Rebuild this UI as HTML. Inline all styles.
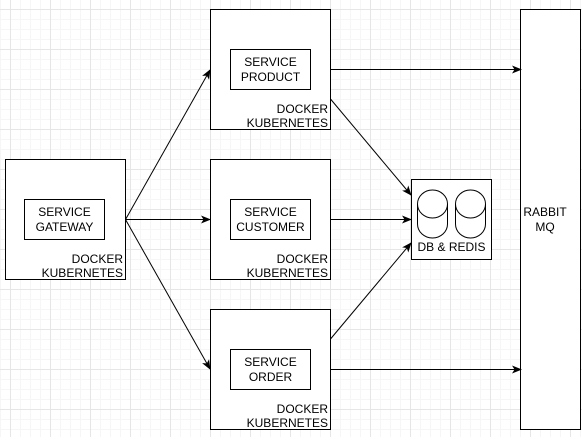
<!DOCTYPE html>
<html><head><style>
body{margin:0;width:582px;height:437px;overflow:hidden;background:#fff}
</style></head><body>
<svg width="582" height="437" xmlns="http://www.w3.org/2000/svg" font-family="Liberation Sans, Arial, sans-serif" font-size="12">
<defs>
<pattern id="mi" width="10" height="10" patternUnits="userSpaceOnUse" x="0" y="-1"><path d="M0 0.5H10M0.5 0V10" stroke="#f6f6f6" fill="none"/></pattern>
<pattern id="ma" width="40" height="40" patternUnits="userSpaceOnUse" x="10" y="9"><path d="M0 0.5H40M0.5 0V40" stroke="#e6e6e6" fill="none"/></pattern>
<marker id="a" markerWidth="10" markerHeight="8" refX="9" refY="4" orient="auto" markerUnits="userSpaceOnUse"><path d="M0 0L10 4L0 8L2.5 4Z" fill="#000"/></marker>
</defs>
<rect width="582" height="437" fill="url(#mi)"/>
<rect width="582" height="437" fill="url(#ma)"/>
<g fill="#fff" stroke="#000" stroke-width="1">
<rect x="5.5" y="159.5" width="120" height="120"/>
<rect x="24.5" y="199.5" width="80" height="40"/>
<rect x="210.5" y="9.5" width="120" height="120"/>
<rect x="230.5" y="49.5" width="80" height="40"/>
<rect x="210.5" y="159.5" width="120" height="120"/>
<rect x="230.5" y="199.5" width="80" height="40"/>
<rect x="210.5" y="309.5" width="120" height="120"/>
<rect x="230.5" y="349.5" width="80" height="40"/>
<rect x="411.5" y="179.5" width="80" height="80"/>
<rect x="520.5" y="9.5" width="60" height="420"/>
</g>
<g fill="none" stroke="#000">
<path d="M417.5 204a15 14 0 0 1 30 0v20a15 14 0 0 1 -30 0z M417.5 204a15 14 0 0 0 30 0"/>
<path d="M455.5 204a15 14 0 0 1 30 0v20a15 14 0 0 1 -30 0z M455.5 204a15 14 0 0 0 30 0"/>
</g>
<g stroke="#000" fill="none" marker-end="url(#a)">
<path d="M125.5 219.5L210 70"/>
<path d="M125.5 219.5L210 219.5"/>
<path d="M125.5 219.5L210 369"/>
<path d="M330.5 69.5L521 69.5"/>
<path d="M330.5 369.5L521 369.5"/>
<path d="M330.5 99L411 195"/>
<path d="M330.5 219.5L411 219.5"/>
<path d="M330.5 339L411 243"/>
</g>
<g text-anchor="middle">
<text x="64.5" y="216">SERVICE</text><text x="64.5" y="231">GATEWAY</text>
<text x="270.5" y="66">SERVICE</text><text x="270.5" y="81">PRODUCT</text>
<text x="270.5" y="216">SERVICE</text><text x="270.5" y="231">CUSTOMER</text>
<text x="270.5" y="366">SERVICE</text><text x="270.5" y="381">ORDER</text>
<text x="451.5" y="251">DB &amp; REDIS</text>
<text x="545" y="216">RABBIT</text><text x="545" y="231">MQ</text>
</g>
<g text-anchor="end">
<text x="123" y="263">DOCKER</text><text x="123" y="277">KUBERNETES</text>
<text x="328" y="113">DOCKER</text><text x="328" y="127">KUBERNETES</text>
<text x="328" y="263">DOCKER</text><text x="328" y="277">KUBERNETES</text>
<text x="328" y="413">DOCKER</text><text x="328" y="427">KUBERNETES</text>
</g>
</svg>
</body></html>
